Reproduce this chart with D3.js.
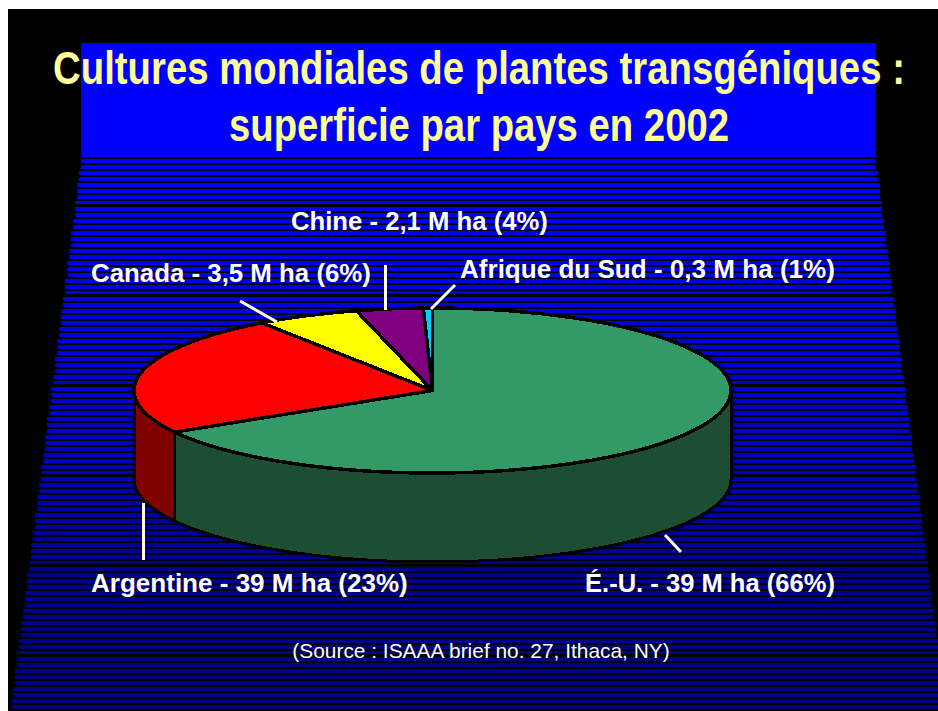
<!DOCTYPE html>
<html>
<head>
<meta charset="utf-8">
<title>Cultures mondiales de plantes transgéniques</title>
<style>
  html, body { margin: 0; padding: 0; background: #fff; overflow: hidden; }
  svg { display: block; }
  .title { font-family: 'Liberation Sans', sans-serif; font-weight: 700; font-size: 47px; fill: #ffff99; text-anchor: middle; }
  .label { font-family: 'Liberation Sans', sans-serif; font-weight: 700; font-size: 25.8px; fill: #fff; }
  .source { font-family: 'Liberation Sans', sans-serif; font-size: 20.9px; fill: #fff; text-anchor: middle; }
  .leader { stroke: #fff; stroke-width: 3px; }
  .edge { stroke: #000; stroke-width: 3px; stroke-linejoin: round; shape-rendering: crispEdges; }
  .face { stroke-width: 3.5px; }
</style>
</head>
<body>
<svg width="938" height="711"></svg>
<script src="https://d3js.org/d3.v7.min.js"></script>
<script>
const countries = ["É.-U.", "Argentine", "Canada", "Chine", "Afrique du Sud"];
const shares = [66.6, 23.7, 5.6, 3.6, 0.5];
const labels = [
  "É.-U. - 39 M ha (66%)",
  "Argentine - 39 M ha (23%)",
  "Canada - 3,5 M ha (6%)",
  "Chine - 2,1 M ha (4%)",
  "Afrique du Sud - 0,3 M ha (1%)"
];
const titleLines = ["Cultures mondiales de plantes transgéniques :", "superficie par pays en 2002"];
const sourceText = "(Source : ISAAA brief no. 27, Ithaca, NY)";

// layout and colours, same order as countries
const topColors = ["#339966", "#ff0000", "#ffff00", "#800080", "#00ccff"];
const wallColors = ["#1d4d33", "#800000", "#808000", "#400040", "#006680"];
const labelPos = [[585, 592], [91, 592], [91, 282], [291, 230], [460, 278]];
const labelWidths = [250, 317, 280, 257, 375];
const leaders = [[665, 535, 681, 552], [143.5, 503, 143.5, 560], [240, 301, 277, 322], [385.5, 265, 385.5, 310], [455, 285, 431, 309]];
const titleWidths = [852, 500];

const cx = 432.5, cy = 390.5, rx = 298.5, ry = 82.5, depth = 89;

let svg = d3.select("svg");

// black slide
svg.append("rect")
  .attr("x", 8).attr("y", 9)
  .attr("width", 930).attr("height", 702)
  .attr("fill", "#000");

// blue header block
svg.append("rect")
  .attr("x", 81).attr("y", 43)
  .attr("width", 795).attr("height", 114)
  .attr("fill", "#0000ff");

// striped background, widening and darkening downwards
let stripeColor = d3.scaleLinear().domain([159, 430, 560, 705]).range(["#0000ff", "#0000c8", "#000091", "#000080"]);
svg.append("g").selectAll("rect")
  .data(d3.range(92))
  .join("rect")
    .attr("shape-rendering", "crispEdges")
    .attr("x", i => 81 - 2 * Math.round(i * 0.385))
    .attr("y", i => 159 + i * 6)
    .attr("width", i => 795 + 4 * Math.round(i * 0.385))
    .attr("height", i => (i % 15 === 7 ? 3 : 4))
    .attr("fill", i => stripeColor(159 + i * 6));

// pie
let pie = d3.pie().sort(null);
let slices = pie(shares);

let px = a => cx + rx * Math.sin(a);
let py = a => cy - ry * Math.cos(a);

// walls: only the front half of the cylinder shows
let wall = (a0, a1) => {
  let from = Math.max(a0, Math.PI / 2), to = Math.min(a1, 3 * Math.PI / 2);
  if (to <= from) return null;
  let steps = d3.range(0, 61).map(k => from + (to - from) * k / 60);
  let pts = steps.map(a => [px(a), py(a)])
    .concat(steps.slice().reverse().map(a => [px(a), py(a) + depth]));
  return d3.line()(pts) + "Z";
};

let chart = svg.append("g");

chart.selectAll("path.wall")
  .data(slices)
  .join("path")
    .attr("class", "wall edge")
    .attr("d", d => wall(d.startAngle, d.endAngle))
    .attr("fill", d => wallColors[d.index]);

// top face: unit arcs squashed into the ellipse
let arc = d3.arc().innerRadius(0).outerRadius(1);
chart.append("g")
  .attr("transform", `translate(${cx},${cy}) scale(${rx},${ry})`)
  .selectAll("path")
  .data(slices)
  .join("path")
    .attr("class", "edge face")
    .attr("vector-effect", "non-scaling-stroke")
    .attr("d", arc)
    .attr("fill", d => topColors[d.index]);

// leader lines
svg.append("g").selectAll("line")
  .data(leaders)
  .join("line")
    .attr("class", "leader")
    .attr("x1", d => d[0]).attr("y1", d => d[1])
    .attr("x2", d => d[2]).attr("y2", d => d[3]);

// text: no narrow font installed, so the title is squeezed to the reference width
svg.append("g").selectAll("text")
  .data(titleLines)
  .join("text")
    .attr("class", "title")
    .text(d => d)
    .attr("transform", function (d, i) {
      let sx = titleWidths[i] / this.getComputedTextLength();
      return `translate(479,${84 + i * 57}) scale(${sx},1)`;
    });

svg.append("g").selectAll("text")
  .data(labels)
  .join("text")
    .attr("class", "label")
    .text(d => d)
    .attr("transform", function (d, i) {
      let sx = labelWidths[i] / this.getComputedTextLength();
      return `translate(${labelPos[i][0]},${labelPos[i][1]}) scale(${sx},1)`;
    });

svg.append("text")
  .attr("class", "source")
  .attr("x", 481).attr("y", 658)
  .text(sourceText);
</script>
</body>
</html>
